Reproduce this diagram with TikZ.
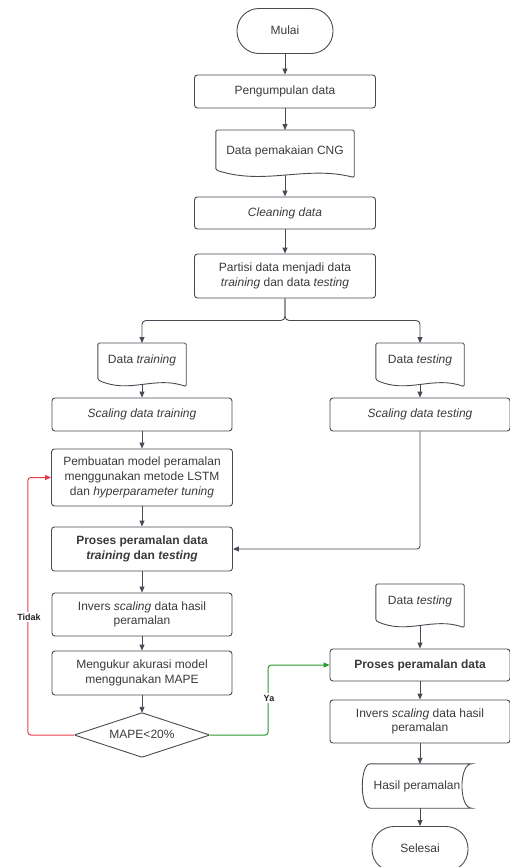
\documentclass[tikz,border=0pt]{standalone}
\usepackage{fontspec}
\setmainfont{Liberation Sans}
\usetikzlibrary{arrows.meta,shapes.geometric,calc}
\definecolor{ln}{HTML}{474B54}
\definecolor{tx}{HTML}{3A3A3A}
\definecolor{rd}{HTML}{E63E46}
\definecolor{gn}{HTML}{2A9A2A}

\tikzset{
 base/.style={text=tx, font=\fontsize{12}{14.7}\selectfont, align=center, inner sep=0pt},
 proc/.style={base, draw=ln, line width=0.9pt, rounded corners=3pt, minimum width=181pt},
 bfont/.style={font=\bfseries\fontsize{12}{14.7}\selectfont},
 term/.style={base, draw=ln, line width=0.9pt, rounded corners=22pt, minimum width=96pt, minimum height=45pt},
 docnode/.style={base, anchor=north, text height=9pt, text depth=2.6pt},
 one/.style={text height=9pt, text depth=2.6pt},
 decbox/.style={base, minimum width=135pt, minimum height=44pt},
 shapeline/.style={draw=ln, line width=0.9pt},
 arr/.style={draw=ln, line width=0.9pt, -{Triangle[length=6pt,width=5pt]}},
 lbl/.style={font=\bfseries\fontsize{9}{10}\selectfont, text=black!85, fill=white, inner xsep=1pt, inner ysep=2pt},
}

\newcommand{\docoutline}[2]{%
 \draw[shapeline, rounded corners=1.5pt] let \p1=(#1.north west), \p2=(#1.north east) in
  (\x1,{\y1-0.80*#2pt}) -- (\x1,\y1) -- (\x2,\y1) -- (\x2,{\y1-0.95*#2pt})
  .. controls ({\x1+0.65*(\x2-\x1)},{\y1-0.70*#2pt}) and ({\x1+0.35*(\x2-\x1)},{\y1-1.12*#2pt}) .. (\x1,{\y1-0.80*#2pt}) -- cycle;
 \coordinate (#1-b) at ($(#1.north)+(0,{0.90*#2})$);}

\newcommand{\storedoutline}[1]{%
 \draw[shapeline] let \p1=(#1.north west), \p2=(#1.south east) in
  ({\x1+8pt},\y1) -- (\x2,\y1) .. controls ({\x2-13pt},\y1) and ({\x2-13pt},\y2) .. (\x2,\y2)
  -- ({\x1+8pt},\y2) .. controls ({\x1-2.7pt},\y2) and ({\x1-2.7pt},\y1) .. ({\x1+8pt},\y1) -- cycle;}

\begin{document}
\begin{tikzpicture}[x=1pt,y=-1pt]
\useasboundingbox (0,0) rectangle (509,867);

% top column
\node[term, one] (mulai) at (285,31) {Mulai};
\node[proc, one, minimum height=33pt] (peng) at (285,91.5) {Pengumpulan data};
\node[docnode, minimum width=138pt, minimum height=42pt] (cng) at (285,130) {Data pemakaian CNG};
\docoutline{cng}{50}
\node[proc, one, minimum height=32pt] (clean) at (285,213) {\textit{Cleaning data}};
\node[proc, minimum height=44pt] (part) at (285,276) {Partisi data menjadi data\\\textit{training} dan data \textit{testing}};

% split
\node[docnode, minimum width=88pt, minimum height=34pt] (dtrain) at (142,343) {Data \textit{training}};
\docoutline{dtrain}{46}
\node[docnode, minimum width=88pt, minimum height=34pt] (dtest) at (420,343) {Data \textit{testing}};
\docoutline{dtest}{46}

% left column
\node[proc, one, minimum width=180pt, minimum height=33pt] (strain) at (142,414.5) {\textit{Scaling data training}};
\node[proc, one, minimum width=180pt, minimum height=33pt] (stest) at (420,414.5) {\textit{Scaling data testing}};
\node[proc, minimum height=57pt] (pemb) at (142,477.5) {Pembuatan model peramalan\\menggunakan metode LSTM\\dan \textit{hyperparameter tuning}};
\node[proc, bfont, minimum height=44pt] (pros1) at (142,549) {Proses peramalan data\\\textit{training} dan \textit{testing}};
\node[proc, minimum width=180pt, minimum height=43pt] (inv1) at (142,614.5) {Invers \textit{scaling} data hasil\\peramalan};
\node[proc, minimum width=180pt, minimum height=44pt] (ukur) at (142,673) {Mengukur akurasi model\\menggunakan MAPE};
\node[decbox, one] (dec) at (142,735) {MAPE<20\%};
\draw[shapeline, rounded corners=1pt] (dec.north) -- (dec.east) -- (dec.south) -- (dec.west) -- cycle;

% right lower column
\node[docnode, minimum width=88pt, minimum height=35pt] (dtest2) at (420,584) {Data \textit{testing}};
\docoutline{dtest2}{46}
\node[proc, bfont, one, minimum width=180pt, minimum height=32pt] (pros2) at (420,665) {Proses peramalan data};
\node[proc, minimum width=180pt, minimum height=43pt] (inv2) at (420,721.5) {Invers \textit{scaling} data hasil\\peramalan};
\node[base, one, minimum width=109pt, minimum height=44pt] (hasil) at (417,786) {Hasil peramalan};
\storedoutline{hasil}
\node[term, one] (selesai) at (420,849) {Selesai};

% connectors
\draw[arr] (mulai) -- (peng);
\draw[arr] (peng.south) -- (cng.north);
\draw[arr] (cng-b) -- (clean.north);
\draw[arr] (clean) -- (part);
\draw[arr, rounded corners=4pt] (part.south) -- ++(0,22) -| (dtrain.north);
\draw[arr, rounded corners=4pt] (part.south) -- ++(0,22) -| (dtest.north);
\draw[arr] (dtrain-b) -- (strain.north);
\draw[arr] (dtest-b) -- (stest.north);
\draw[arr] (strain) -- (pemb);
\draw[arr] (pemb) -- (pros1);
\draw[arr] (pros1) -- (inv1);
\draw[arr] (inv1) -- (ukur);
\draw[arr] (ukur.south) -- (dec.north);
\draw[arr, rounded corners=3pt] (stest.south) |- (pros1.east);
\draw[arr, draw=rd, line width=1pt, rounded corners=3pt, -{Triangle[length=6pt,width=5pt,fill=rd]}] (dec.west) -- ++(-46.5,0) |- (pemb.west);
\draw[arr, draw=gn, line width=1pt, rounded corners=3pt, -{Triangle[length=6pt,width=5pt,fill=gn]}] (dec.east) -- ++(58.5,0) |- (pros2.west);
\node[lbl] (tidak) at (29,617) {Tidak};
\node[lbl] (ya) at (269,698) {Ya};
\draw[arr] (dtest2-b) -- (pros2.north);
\draw[arr] (pros2) -- (inv2);
\draw[arr] (inv2.south) -- (inv2.south |- hasil.north);
\draw[arr] (selesai.north |- hasil.south) -- (selesai.north);
\end{tikzpicture}
\end{document}
